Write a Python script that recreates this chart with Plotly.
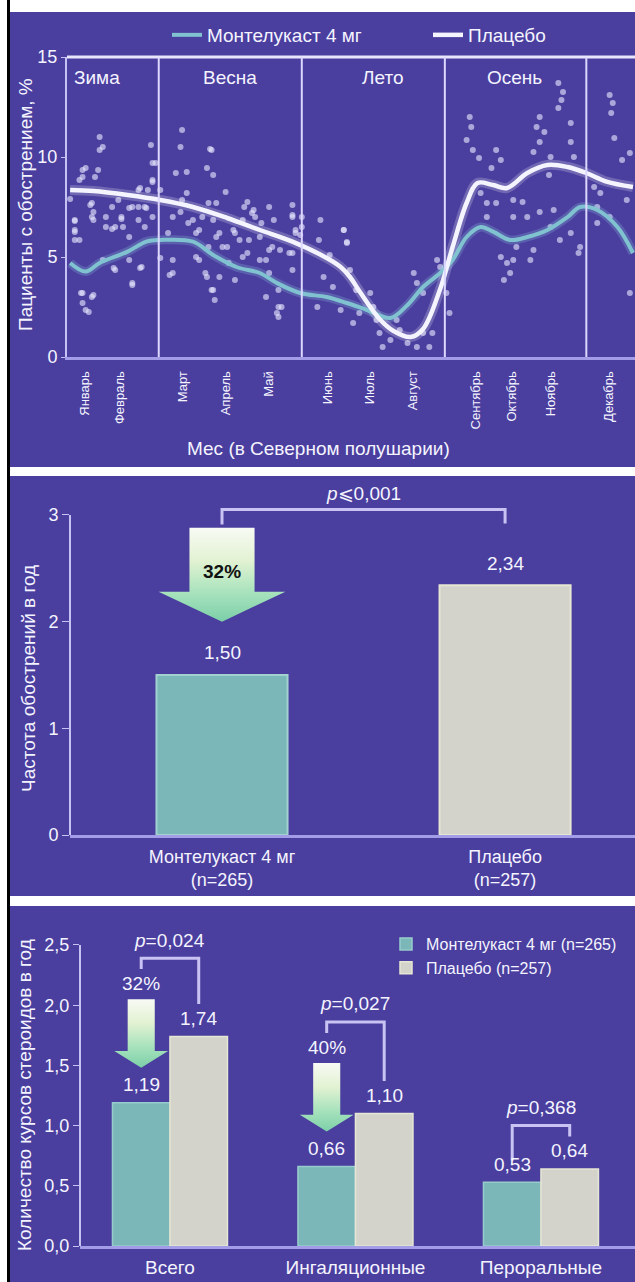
import plotly.graph_objects as go

W, H = 635, 1282
BG = "#4a3e9e"
TXT = "#f4f4ff"
FONT = "Liberation Sans, Arial, sans-serif"
TEAL_LINE = "#80c2d0"
WHITE_LINE = "#f4f4ff"
AXIS_LIGHT = "#c6c2f4"
AXIS_BASE = "#a39de8"
BRACKET = "#c8c3f2"
TEAL_BAR = "#7bb6b8"
GREY_BAR = "#d3d3cb"

# ---------------- panel 1: seasonal pattern ----------------
season_names = ["Зима", "Весна", "Лето", "Осень"]
season_label_day = [19, 105, 203, 288]
season_bound_day = [59, 151, 243, 334]
month_names = ["Январь", "Февраль", "Март", "Апрель", "Май", "Июнь",
               "Июль", "Август", "Сентябрь", "Октябрь", "Ноябрь", "Декабрь"]
month_tick_day = [11.6, 33.7, 74.6, 101.9, 129.9, 167.8,
                  194.9, 222.5, 262.8, 286.2, 311.0, 348.6]

placebo_day = [2, 17, 39, 60, 81, 103, 124, 145, 167, 176, 182, 188, 201, 210,
               221, 229, 240, 248, 257, 264, 274, 283, 296, 309, 322, 334, 347, 364]
placebo_pct = [8.35, 8.3, 8.1, 7.85, 7.5, 6.95, 6.35, 5.77, 4.95, 4.5, 4.0, 3.3, 1.9, 1.3,
               1.0, 1.4, 3.4, 5.5, 7.7, 8.7, 8.6, 8.45, 9.2, 9.6, 9.5, 9.2, 8.77, 8.5]

monte_day = [2, 12, 21, 39, 51, 60, 81, 94, 109, 124, 135, 150, 167, 180, 193, 208,
             219, 229, 240, 248, 257, 266, 274, 285, 296, 309, 322, 330, 341, 354, 364]
monte_pct = [4.7, 4.27, 4.7, 5.27, 5.77, 5.85, 5.77, 5.1, 4.5, 4.2, 3.7, 3.2, 3.0, 2.7, 2.35, 1.95,
             2.6, 3.5, 4.2, 4.85, 6.0, 6.5, 6.27, 5.85, 6.0, 6.35, 7.0, 7.5, 7.35, 6.5, 5.2]

# weekly observations (day of year, % of patients)
dot_day = [23, 21, 10, 18, 8, 2, 15, 17, 5, 33, 40, 46, 51, 35, 36, 29, 5, 8, 17, 9, 17, 10, 14,
           30, 42, 47, 54, 57, 55, 60, 52, 47, 73, 70, 77, 93, 90, 94, 102, 96, 77, 73, 81, 83,
           85, 94, 96, 107, 103, 116, 120, 113, 111, 124, 130, 133, 130, 137, 145, 145, 147, 150,
           143, 136, 135, 128, 116, 124, 90, 94, 163, 162, 169, 178, 180, 165, 171, 161, 176, 60,
           66, 21, 74, 92,
           5, 5, 5, 16, 16, 25, 25, 29, 31, 35, 40, 42, 46, 50, 50, 55, 46, 55, 55, 10, 12, 20,
           10, 16, 12, 31, 42, 48, 40, 23, 68, 65, 68, 68, 74, 78, 83, 85, 89, 93, 95, 98, 108,
           104, 113, 117, 119, 125, 128, 132, 130, 136, 138, 136, 145, 147, 145, 145, 151, 151,
           100, 91, 98, 108, 87, 91, 114, 121,
           259, 260, 257, 261, 265, 276, 279, 273, 304, 302, 307, 304, 300, 316, 319, 318, 316,
           324, 324, 326, 311, 310, 349, 351, 350, 352, 357, 362, 339, 343, 360, 341, 349, 341,
           362, 266, 270, 276, 287, 293, 270, 287, 296, 304, 313, 311, 324, 330, 329, 317, 279,
           283, 285, 287, 289, 300, 298, 281,
           178, 180, 182, 186, 195, 197, 188, 184, 201, 208, 203, 214, 219, 225, 233, 229, 225,
           229, 223, 238, 240, 244, 246, 235, 212, 199]
dot_pct = [10.5, 10.35, 9.35, 9.0, 8.85, 7.9, 7.6, 7.25, 6.8, 7.85, 7.45, 7.5, 7.45, 6.9, 6.5, 6.4,
           6.25, 5.85, 6.85, 3.2, 3.1, 2.7, 2.25, 4.45, 3.6, 4.45, 10.6, 9.7, 8.75, 8.35, 8.35,
           8.45, 10.5, 9.2, 9.25, 10.35, 9.45, 9.1, 8.25, 7.7, 8.2, 7.25, 6.85, 5.0, 6.35, 6.85,
           6.0, 6.35, 5.5, 7.75, 7.35, 6.85, 5.85, 6.0, 7.5, 6.85, 5.35, 5.35, 7.6, 7.1, 6.35,
           6.1, 5.2, 2.5, 2.2, 3.0, 5.2, 4.85, 4.0, 3.35, 6.85, 5.85, 5.1, 6.35, 5.7, 4.0, 3.5,
           2.5, 2.35, 4.95, 4.1, 11.0, 11.35, 10.4,
           6.85, 6.35, 5.85, 7.7, 7.0, 7.0, 6.5, 7.5, 6.5, 7.0, 6.0, 7.5, 6.85, 6.5, 7.5, 7.0,
           8.35, 8.85, 9.7, 9.0, 9.45, 9.35, 3.2, 3.0, 2.35, 4.35, 3.7, 4.5, 4.85, 4.85, 7.0, 6.2,
           4.85, 4.2, 7.85, 6.7, 6.2, 4.85, 4.2, 3.35, 2.85, 4.0, 3.85, 4.7, 5.0, 5.85, 7.2, 6.7,
           4.85, 5.5, 4.2, 3.35, 2.5, 2.0, 7.0, 6.2, 5.2, 4.35, 6.5, 7.0,
           5.5, 5.5, 6.2, 6.2, 7.0, 7.7, 7.5, 7.0,
           12.0, 11.5, 10.85, 10.35, 9.95, 10.35, 9.85, 9.45, 12.0, 11.5, 11.25, 10.75, 10.25,
           13.7, 13.25, 12.85, 12.45, 11.7, 10.75, 10.0, 10.0, 9.1, 13.1, 12.7, 12.2, 10.95,
           9.85, 10.2, 8.5, 8.2, 7.85, 7.5, 7.0, 6.7, 3.2, 8.2, 7.7, 7.7, 7.85, 7.75, 7.0, 7.0,
           7.0, 7.25, 7.35, 6.5, 6.2, 5.5, 5.2, 5.85, 5.0, 4.7, 4.2, 4.85, 5.5, 5.35, 4.85, 3.85,
           6.35, 5.75, 4.35, 3.35, 3.2, 2.5, 2.2, 1.7, 1.2, 0.85, 0.5, 1.35, 0.7, 0.5, 0.5, 1.2,
           3.7, 3.2, 4.2, 4.85, 4.5, 3.2, 2.2, 1.2, 1.85, 1.85]

# ---------------- panel 2: exacerbation rate ----------------
rate_groups = ["Монтелукаст 4 мг<br>(n=265)", "Плацебо<br>(n=257)"]
rate_values = [1.50, 2.34]
rate_p_text = "<i>p</i>⩽0,001"
rate_reduction = "32%"

# ---------------- panel 3: steroid courses ----------------
steroid_types = ["Всего", "Ингаляционные", "Пероральные"]
steroid_monte = [1.19, 0.66, 0.53]
steroid_placebo = [1.74, 1.10, 0.64]
steroid_p = ["0,024", "0,027", "0,368"]
steroid_reduction = ["32%", "40%", None]
series_names = ["Монтелукаст 4 мг (n=265)", "Плацебо (n=257)"]


def fmt(v):
    return f"{v:.2f}".replace(".", ",")


def py2p(py):
    return 1 - py / H


def px2p(px):
    return px / W


def arrow_poly(xc, top, base, tip, shaft_hw, head_hw):
    xs = [xc - shaft_hw, xc + shaft_hw, xc + shaft_hw, xc + head_hw, xc,
          xc - head_hw, xc - shaft_hw, xc - shaft_hw]
    ys = [top, top, base, base, tip, base, base, top]
    return xs, ys


ARROW_SCALE = [[0.0, "#7ccfa8"], [0.3, "#a6e2bc"], [0.65, "#e2f2d2"], [1.0, "#f8faf4"]]

fig = go.Figure()

# panel 1 traces
fig.add_trace(go.Scatter(x=dot_day, y=dot_pct, mode="markers", xaxis="x", yaxis="y",
                         marker=dict(size=6, color="rgba(232,232,255,0.62)", line=dict(width=0)),
                         showlegend=False, hoverinfo="skip"))
fig.add_trace(go.Scatter(x=monte_day, y=monte_pct, mode="lines", line_shape="spline",
                         line=dict(color="rgba(140,200,225,0.25)", width=9),
                         xaxis="x", yaxis="y", showlegend=False, hoverinfo="skip"))
fig.add_trace(go.Scatter(x=placebo_day, y=placebo_pct, mode="lines", line_shape="spline",
                         line=dict(color="rgba(255,255,255,0.22)", width=10),
                         xaxis="x", yaxis="y", showlegend=False, hoverinfo="skip"))
fig.add_trace(go.Scatter(x=monte_day, y=monte_pct, mode="lines", line_shape="spline",
                         line=dict(color=TEAL_LINE, width=4), name="Монтелукаст 4 мг",
                         xaxis="x", yaxis="y", legend="legend", legendwidth=216))
fig.add_trace(go.Scatter(x=placebo_day, y=placebo_pct, mode="lines", line_shape="spline",
                         line=dict(color=WHITE_LINE, width=4.5), name="Плацебо",
                         xaxis="x", yaxis="y", legend="legend", legendwidth=80))

# panel 2 traces
fig.add_trace(go.Bar(x=[0, 1], y=rate_values, width=0.463, xaxis="x2", yaxis="y2",
                     marker=dict(color=[TEAL_BAR, GREY_BAR],
                                 line=dict(color=["#a2d2d0", "#e6e6d2"], width=2)),
                     showlegend=False, hoverinfo="skip"))
a_top = rate_values[1] + 0.54
a_tip = a_top - 0.88
a_base = a_tip + 0.28
ax_, ay_ = arrow_poly(0, a_top, a_base, a_tip, 0.115, 0.224)
fig.add_trace(go.Scatter(x=ax_, y=ay_, mode="lines", fill="toself",
                         line=dict(width=0, color="rgba(0,0,0,0)"),
                         fillgradient=dict(type="vertical", colorscale=ARROW_SCALE),
                         xaxis="x2", yaxis="y2", showlegend=False, hoverinfo="skip"))
br_top = a_top + 0.17
fig.add_trace(go.Scatter(x=[0, 0, 1, 1], y=[a_top + 0.03, br_top, br_top, rate_values[1] + 0.58],
                         mode="lines", line=dict(color=BRACKET, width=3),
                         xaxis="x2", yaxis="y2", showlegend=False, hoverinfo="skip"))

# panel 3 traces
BW = 0.31
fig.add_trace(go.Bar(x=[0, 1, 2], y=steroid_monte, width=BW, offset=-BW, name=series_names[0],
                     marker=dict(color=TEAL_BAR, line=dict(color="#98cccc", width=1.5)),
                     xaxis="x3", yaxis="y3", legend="legend2"))
fig.add_trace(go.Bar(x=[0, 1, 2], y=steroid_placebo, width=BW, offset=0, name=series_names[1],
                     marker=dict(color=GREY_BAR, line=dict(color="#e6e6d4", width=1.5)),
                     xaxis="x3", yaxis="y3", legend="legend2"))

annotations = []
for i in range(3):
    xm = i - BW / 2
    xp = i + BW / 2
    if steroid_reduction[i]:
        tip = steroid_monte[i] + 0.29
        top = tip + 0.57
        base = tip + 0.14
        xs, ys = arrow_poly(xm, top, base, tip, 0.073, 0.145)
        fig.add_trace(go.Scatter(x=xs, y=ys, mode="lines", fill="toself",
                                 line=dict(width=0, color="rgba(0,0,0,0)"),
                                 fillgradient=dict(type="vertical", colorscale=ARROW_SCALE),
                                 xaxis="x3", yaxis="y3", showlegend=False, hoverinfo="skip"))
        annotations.append(dict(x=xm, y=top + 0.13, xref="x3", yref="y3", text=steroid_reduction[i],
                                showarrow=False, font=dict(size=19, color=TXT)))
        left_end = top + 0.25
    else:
        left_end = steroid_monte[i] + 0.18
    right_end = steroid_placebo[i] + 0.27
    b_top = max(left_end, right_end) + 0.09
    fig.add_trace(go.Scatter(x=[xm, xm, xp, xp], y=[left_end, b_top, b_top, right_end],
                             mode="lines", line=dict(color=BRACKET, width=3),
                             xaxis="x3", yaxis="y3", showlegend=False, hoverinfo="skip"))
    annotations.append(dict(x=i, y=b_top + 0.15, xref="x3", yref="y3",
                            text=f"<i>p</i>={steroid_p[i]}", showarrow=False,
                            font=dict(size=19, color=TXT)))
    annotations.append(dict(x=xm, y=steroid_monte[i], xref="x3", yref="y3", yshift=18,
                            text=fmt(steroid_monte[i]), showarrow=False,
                            font=dict(size=19, color=TXT)))
    annotations.append(dict(x=xp, y=steroid_placebo[i], xref="x3", yref="y3", yshift=18,
                            text=fmt(steroid_placebo[i]), showarrow=False,
                            font=dict(size=19, color=TXT)))

# panel 2 annotations
for i, v in enumerate(rate_values):
    annotations.append(dict(x=i, y=v, xref="x2", yref="y2", yshift=22, text=fmt(v),
                            showarrow=False, font=dict(size=19, color=TXT)))
annotations.append(dict(x=0.5, y=br_top + 0.15, xref="x2", yref="y2", text=rate_p_text,
                        showarrow=False, font=dict(size=19, color=TXT)))
annotations.append(dict(x=0, y=a_top - 0.41, xref="x2", yref="y2", text=f"<b>{rate_reduction}</b>",
                        showarrow=False, font=dict(size=19, color="#111111")))

# panel 1 annotations
for name, d in zip(season_names, season_label_day):
    annotations.append(dict(x=d, y=14, xref="x", yref="y", text=name, showarrow=False,
                            font=dict(size=19, color=TXT)))


def paper_note(px, py, text, size, angle=0):
    return dict(x=px2p(px), y=py2p(py), xref="paper", yref="paper", xanchor="center",
                yanchor="middle", text=text, textangle=angle, showarrow=False,
                font=dict(size=size, color=TXT))


annotations.append(paper_note(319, 448, "Мес (в Северном полушарии)", 19))
annotations.append(paper_note(25, 205, "Пациенты с обострением, %", 19, -90))
annotations.append(paper_note(28, 679, "Частота обострений в год", 19, -90))
annotations.append(paper_note(24, 1095, "Количество курсов стероидов в год", 19, -90))

shapes = []
# panel backgrounds
for top, bot in [(12, 467), (476, 896), (906, H)]:
    shapes.append(dict(type="rect", xref="paper", yref="paper", x0=px2p(10), x1=1,
                       y0=py2p(bot), y1=py2p(top), fillcolor=BG, line=dict(width=0), layer="below"))
shapes.append(dict(type="rect", xref="paper", yref="paper", x0=px2p(7), x1=px2p(10),
                   y0=0, y1=1, fillcolor="#000000", line=dict(width=0), layer="above"))
# panel 1 frame and season dividers
shapes.append(dict(type="line", xref="x domain", yref="y domain", x0=0, x1=1, y0=1, y1=1,
                   line=dict(color="#e8e6ff", width=3)))
for d in season_bound_day:
    shapes.append(dict(type="line", xref="x", yref="y domain", x0=d, x1=d, y0=0, y1=1,
                       line=dict(color="#dcd8ff", width=2)))
# value axes of panels 2 and 3
shapes.append(dict(type="line", xref="x2 domain", yref="y2", x0=0, x1=0, y0=0, y1=3,
                   line=dict(color=AXIS_LIGHT, width=2)))
shapes.append(dict(type="line", xref="x3 domain", yref="y3", x0=0, x1=0, y0=0, y1=2.5,
                   line=dict(color=AXIS_LIGHT, width=2)))

tick_font = dict(size=18, color=TXT, family=FONT)

fig.update_layout(
    width=W, height=H, margin=dict(l=0, r=0, t=0, b=0, autoexpand=False),
    paper_bgcolor="#ffffff", plot_bgcolor="rgba(0,0,0,0)",
    font=dict(family=FONT, color=TXT),
    barmode="overlay",
    showlegend=True,
    xaxis=dict(domain=[px2p(67), 1], range=[0, 365.3], tickvals=month_tick_day,
               ticktext=month_names, tickangle=-90, tickfont=dict(size=13, color=TXT),
               ticks="", ticklabelstandoff=6, showgrid=False, zeroline=False,
               showline=True, linecolor=AXIS_BASE, linewidth=3, anchor="y"),
    yaxis=dict(domain=[py2p(357), py2p(57)], range=[0, 15], tickvals=[0, 5, 10, 15],
               ticks="outside", ticklen=4, tickcolor=AXIS_LIGHT, tickfont=tick_font,
               showgrid=False, zeroline=False, showline=True, linecolor=AXIS_LIGHT,
               linewidth=2, anchor="x"),
    xaxis2=dict(domain=[px2p(70), 1], range=[-0.537, 1.459], tickvals=[0, 1],
                ticktext=rate_groups, tickfont=dict(size=18, color=TXT), ticks="",
                ticklabelstandoff=3, showgrid=False, zeroline=False, showline=True,
                linecolor=AXIS_BASE, linewidth=3, anchor="y2"),
    yaxis2=dict(domain=[py2p(835), py2p(484)], range=[0, 3.29], tickvals=[0, 1, 2, 3],
                ticks="outside", ticklen=7, tickcolor=AXIS_LIGHT, tickfont=tick_font,
                showgrid=False, zeroline=False, showline=False, anchor="x2"),
    xaxis3=dict(domain=[px2p(80), 1], range=[-0.485, 2.507], tickvals=[0, 1, 2],
                ticktext=steroid_types, tickfont=dict(size=19, color=TXT), ticks="",
                ticklabelstandoff=2, showgrid=False, zeroline=False, showline=True,
                linecolor=AXIS_BASE, linewidth=3, anchor="y3"),
    yaxis3=dict(domain=[py2p(1246), py2p(912)], range=[0, 2.774],
                tickvals=[0, 0.5, 1, 1.5, 2, 2.5],
                ticktext=["0,0", "0,5", "1,0", "1,5", "2,0", "2,5"],
                ticks="outside", ticklen=6, tickcolor=AXIS_LIGHT, tickfont=tick_font,
                showgrid=False, zeroline=False, showline=False, anchor="x3"),
    legend=dict(orientation="h", x=px2p(167), xanchor="left", y=py2p(35), yanchor="middle",
                bgcolor="rgba(0,0,0,0)", font=dict(size=19, color=TXT)),
    legend2=dict(orientation="v", x=px2p(386), xanchor="left", y=py2p(927), yanchor="top",
                 entrywidth=195, bgcolor="rgba(0,0,0,0)", font=dict(size=16, color=TXT),
                 tracegroupgap=0),
    annotations=annotations,
    shapes=shapes,
)

fig.write_html("out.html")
